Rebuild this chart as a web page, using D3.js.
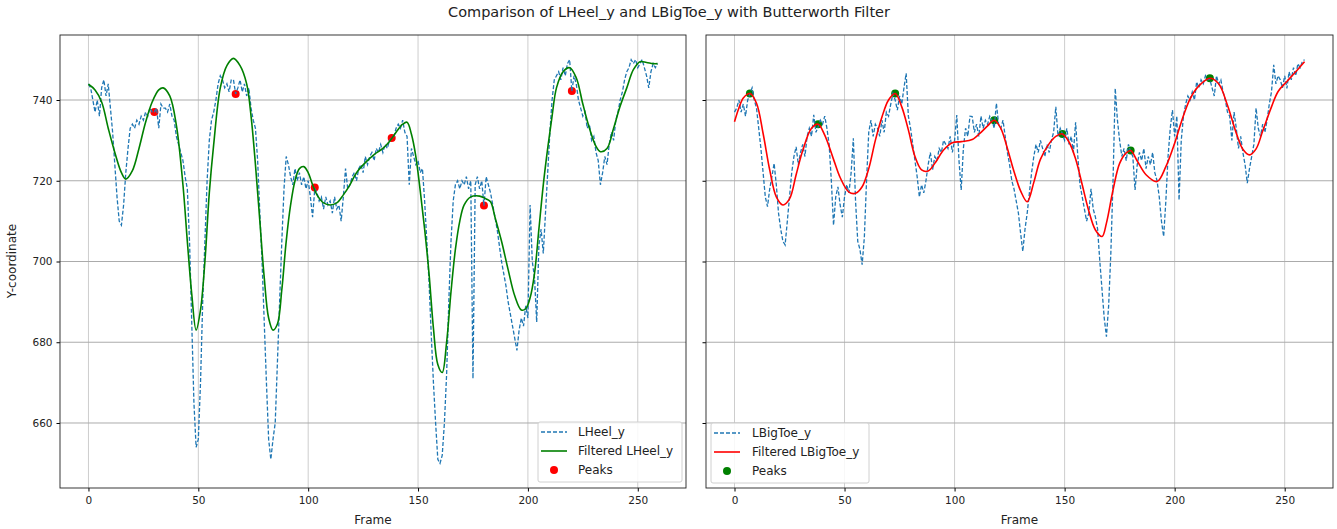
<!DOCTYPE html>
<html>
<head>
<meta charset="utf-8">
<script src="https://cdn.jsdelivr.net/npm/d3@7"></script>
<style>
  body { margin: 0; background: #fff; }
  svg { display: block; font-family: 'DejaVu Sans', sans-serif; }
</style>
</head>
<body>
<div id="chart"></div>
<script>
// raw LHeel_y, one value per frame (0..259)
const heelRaw = [
  744, 743, 740, 737, 740, 736, 743, 745, 741, 744, 738, 732,
  724, 716, 710, 709, 714, 722, 728, 733, 734,
  733, 735, 734, 736, 735, 737, 736, 738, 737,
  737, 738, 733, 739, 738,
  738, 737, 739, 736, 735, 731, 729, 727, 725,
  721, 718, 705, 685, 665, 654,
  656, 670, 690, 705, 720, 730, 735,
  737, 740, 744, 746, 745, 743, 744, 742, 745, 745, 741.5, 743, 745, 742, 744, 741, 743, 738, 735,
  733, 725, 712, 700, 685, 670, 656, 651, 656, 660, 675, 690, 705, 718, 726,
  724, 721, 719, 723, 720, 722, 719, 721, 718, 720, 716, 711, 718, 717, 715, 716, 713, 716, 714, 715, 712, 716, 713, 714, 710, 716, 723, 718,
  719, 721, 722, 720, 723, 724, 722, 726, 724, 726, 727, 725, 728, 727, 729, 727, 729, 728, 730, 730.5, 731, 733,
  734, 733, 735, 732, 731, 719, 728, 726, 724, 725, 722, 723,
  715, 705, 695, 682, 670, 660, 651, 650, 652, 660, 672, 690, 705, 715, 719,
  720, 718, 720, 719, 721, 718, 720,
  671,
  719, 721, 718, 720, 713.8, 721, 719,
  717, 714, 711, 708, 704, 700, 697, 694, 690, 687, 684, 681, 678, 683, 686, 684, 689, 686, 714, 700, 696, 685,
  704, 708, 702, 712, 722, 732, 740, 745, 746,
  747, 745, 748, 746, 749, 750, 742.2, 746, 744,
  740, 738, 736, 737, 733, 734, 730, 731, 727, 725,
  719, 722, 726, 724,
  729, 732, 730, 735, 737, 740, 742, 745, 747,
  748, 750, 749, 750, 748, 749, 750, 748, 746, 743, 747, 749, 748, 749
];

// filtered LHeel_y, read at these frames
const heelFiltFrames = [0, 3, 6, 9, 12, 15, 17, 20, 23, 26, 29, 32, 34, 37, 40, 43, 45, 47, 49, 51, 53, 55, 57, 60, 63, 66, 69, 72, 74, 76, 78, 80, 82, 84, 86, 88, 90, 92, 94, 96, 98, 100, 102, 104, 107, 110, 113, 116, 119, 122, 126, 130, 134, 137, 140, 143, 145, 147, 149, 151, 153, 155, 157, 159, 161, 163, 165, 167, 169, 171, 174, 178, 181, 183, 185, 188, 191, 194, 197, 199, 201, 203, 205, 207, 209, 211, 213, 216, 219, 222, 225, 228, 231, 233, 236, 239, 242, 245, 248, 251, 254, 257, 259];
const heelFilt = [743.9, 742.5, 739.5, 733, 727, 722, 720.4, 722.5, 728, 734.5, 739.5, 742.5, 743, 741, 733.8, 719, 705, 692, 683, 688, 700, 717, 729, 743, 748.5, 750.3, 748.5, 744, 736, 724, 710, 696, 686, 683, 684.5, 693, 705, 714, 720, 723, 723.5, 722, 719, 716.5, 714.5, 714, 714.5, 716.5, 719, 722, 724.5, 726.5, 728, 729.7, 732, 734, 734.5, 731.5, 726, 717.5, 708, 697, 683.5, 674.5, 672.5, 680, 692.5, 703, 710, 714, 716, 716.2, 715.5, 714.8, 711, 705, 698, 691.5, 688, 688.3, 691, 697, 708, 719, 728, 736, 743, 747, 748, 745.5, 739, 733, 728.5, 727.2, 728, 733, 738.5, 743, 747.5, 749.5, 749.3, 749, 749];

const heelPeakFrames = [30, 67, 103, 138, 180, 220];
const heelPeakValues = [737, 741.5, 718.3, 730.6, 713.9, 742.2];

// raw LBigToe_y, one value per frame (0..259)
const toeRaw = [
  737, 738, 740, 737, 739, 736, 740, 741.5, 743, 740, 738, 733,
  728, 722, 716, 713.6, 718, 721, 724.3, 719, 712, 708, 705, 704.1,
  710, 716, 722, 726, 728.4, 724, 727,
  729, 726, 731, 733, 731, 736.3, 732, 733.4,
  735, 734, 736, 733, 729, 720, 709, 716,
  718.5, 714, 711, 716, 719, 717,
  722, 730.5, 715, 705, 703, 699.2, 706, 720,
  732, 735, 731, 734, 733, 731, 735, 732, 737, 736,
  739, 741.6, 740, 737.5, 741, 739, 743, 746.6, 736,
  733, 729, 725, 721, 716, 719, 717, 720,
  724, 727, 722.7, 726, 725, 728, 727, 730, 729, 728, 731, 727,
  730, 736.3, 725, 717.7, 728,
  733, 731, 736, 735.9, 732, 734, 731, 736, 733, 735,
  734, 736, 735, 733, 739.2, 734, 733, 735, 731, 727, 724,
  720, 718, 715, 712, 707, 702.5, 708, 712,
  717, 722, 726, 729, 727, 730, 728, 726, 729, 727, 730, 732,
  738.3, 731, 733, 731.6, 730, 733, 729, 731, 727, 734.5, 726, 719,
  716, 713, 710, 712, 718, 713, 711, 708,
  700, 693, 686, 681.4, 689, 702,
  720, 742.9, 735,
  730, 726, 728, 725, 729, 727.2, 726, 717.7, 724,
  727, 725, 728, 723, 726, 724, 727, 722, 720,
  716, 710, 706.2, 715, 726,
  733, 737.5, 731, 736, 715.2, 730, 736, 739,
  741, 740, 742, 740, 744.5, 743, 745, 744,
  746, 745, 745.1, 743, 741, 746, 744, 745, 742, 740, 737,
  736, 730, 737, 733, 728, 731, 727, 724,
  719.4, 723, 726, 729,
  738, 733, 731, 734, 732, 735, 739, 742,
  748.7, 744, 746, 745, 743, 746, 742.9, 747, 745, 748, 746, 749, 748, 749.5, 750
];

// filtered LBigToe_y, read at these frames
const toeFiltFrames = [0, 2, 4, 7, 10, 13, 16, 19, 22, 25, 28, 31, 35, 38, 41, 45, 48, 52, 55, 58, 61, 64, 67, 70, 73, 76, 79, 82, 85, 88, 91, 95, 99, 103, 108, 112, 115, 118, 121, 124, 127, 130, 133, 136, 139, 143, 146, 149, 152, 155, 158, 161, 164, 167, 169, 172, 175, 178, 180, 183, 187, 192, 196, 200, 203, 207, 211, 216, 220, 224, 228, 231, 234, 237, 240, 244, 247, 251, 255, 259];
const toeFilt = [734.6, 738, 740.5, 741.6, 739.2, 731.7, 722.7, 716, 714, 715.5, 721.5, 727.5, 733, 734, 731.3, 725.3, 720.8, 717.2, 716.9, 718.5, 723, 730, 735.8, 740, 741.6, 738.3, 732.6, 726, 722.7, 722.4, 724.3, 727.6, 729.4, 729.7, 730.2, 732, 733.6, 735, 733, 728, 722.3, 717.5, 714.8, 719.6, 725.3, 729.2, 731, 731.6, 729.6, 725.4, 719, 712.5, 707.8, 706.2, 709.5, 717.7, 724.3, 726.9, 727.5, 724.9, 721.5, 719.8, 723.5, 729.3, 734.5, 740.3, 743.5, 745.4, 744, 738.7, 731.8, 727.8, 726.4, 727.9, 732.3, 738.3, 742.1, 744.6, 747, 749.5];

const toePeakFrames = [7, 38, 73, 118, 149, 180, 216];
const toePeakValues = [741.6, 734, 741.6, 735, 731.6, 727.5, 745.4];

const yTicks = [660, 680, 700, 720, 740];
const xTicks = [0, 50, 100, 150, 200, 250];

const width = 1337;
const height = 529;
const plotTop = 35;
const plotBottom = 488;

const svg = d3.select('#chart')
  .append('svg')
  .attr('width', width)
  .attr('height', height);

svg.append('rect')
  .attr('width', width)
  .attr('height', height)
  .attr('fill', '#fff');

svg.append('text')
  .attr('x', 669)
  .attr('y', 17)
  .attr('text-anchor', 'middle')
  .attr('font-size', 14.5)
  .attr('fill', '#222')
  .text('Comparison of LHeel_y and LBigToe_y with Butterworth Filter');

const y = d3.scaleLinear()
  .domain([643.9, 756.1])
  .range([plotBottom, plotTop]);

function drawPanel(opt) {
  const x = d3.scaleLinear()
    .domain([-12.95, 271.95])
    .range([opt.left, opt.right]);

  const g = svg.append('g');

  // grid
  g.append('g')
    .selectAll('line')
    .data(xTicks)
    .join('line')
    .attr('x1', d => x(d)).attr('x2', d => x(d))
    .attr('y1', plotTop).attr('y2', plotBottom)
    .attr('stroke', '#cdcdcd')
    .attr('stroke-width', 1);

  g.append('g')
    .selectAll('line')
    .data(yTicks)
    .join('line')
    .attr('x1', opt.left).attr('x2', opt.right)
    .attr('y1', d => y(d)).attr('y2', d => y(d))
    .attr('stroke', '#ababab')
    .attr('stroke-width', 1);

  // axes
  const xAxis = d3.axisBottom(x).tickValues(xTicks).tickSize(3.5).tickPadding(5);
  const gx = g.append('g')
    .attr('transform', `translate(0,${plotBottom})`)
    .call(xAxis);
  gx.select('.domain').remove();
  gx.selectAll('text').attr('font-size', 10.5).attr('fill', '#222').attr('font-family', 'DejaVu Sans');

  const yAxis = d3.axisLeft(y).tickValues(yTicks).tickSize(3.5).tickPadding(4);
  if (!opt.yLabels) yAxis.tickFormat('');
  const gy = g.append('g')
    .attr('transform', `translate(${opt.left},0)`)
    .call(yAxis);
  gy.select('.domain').remove();
  gy.selectAll('text').attr('font-size', 10.5).attr('fill', '#222').attr('font-family', 'DejaVu Sans');

  // peaks go under the lines, like matplotlib's scatter zorder
  g.append('g')
    .selectAll('circle')
    .data(opt.peakFrames)
    .join('circle')
    .attr('cx', d => x(d))
    .attr('cy', (d, i) => y(opt.peakValues[i]))
    .attr('r', 4)
    .attr('fill', opt.peakColor);

  const rawLine = d3.line()
    .x((d, i) => x(i))
    .y(d => y(d));

  g.append('path')
    .datum(opt.raw)
    .attr('d', rawLine)
    .attr('fill', 'none')
    .attr('stroke', '#1f77b4')
    .attr('stroke-width', 1.3)
    .attr('stroke-dasharray', '4,2');

  const filtLine = d3.line()
    .x(d => x(d))
    .y((d, i) => y(opt.filt[i]))
    .curve(d3.curveCatmullRom);

  g.append('path')
    .datum(opt.filtFrames)
    .attr('d', filtLine)
    .attr('fill', 'none')
    .attr('stroke', opt.filtColor)
    .attr('stroke-width', 1.6);

  // frame
  g.append('rect')
    .attr('x', opt.left)
    .attr('y', plotTop)
    .attr('width', opt.right - opt.left)
    .attr('height', plotBottom - plotTop)
    .attr('fill', 'none')
    .attr('stroke', '#222')
    .attr('stroke-width', 0.9);

  g.append('text')
    .attr('x', (opt.left + opt.right) / 2)
    .attr('y', 524)
    .attr('text-anchor', 'middle')
    .attr('font-size', 12)
    .attr('fill', '#222')
    .text('Frame');

  // legend
  const lg = g.append('g')
    .attr('transform', `translate(${opt.legendX},${opt.legendY})`);
  lg.append('rect')
    .attr('width', opt.legendW)
    .attr('height', 60)
    .attr('rx', 2)
    .attr('fill', 'rgba(255,255,255,0.85)')
    .attr('stroke', '#d0d0d0');

  const names = [opt.rawName, 'Filtered ' + opt.rawName, 'Peaks'];
  names.forEach((name, i) => {
    const cy = 10 + i * 19;
    if (i === 0) {
      lg.append('line')
        .attr('x1', 3).attr('x2', 29).attr('y1', cy).attr('y2', cy)
        .attr('stroke', '#1f77b4').attr('stroke-width', 1.3)
        .attr('stroke-dasharray', '4,2');
    } else if (i === 1) {
      lg.append('line')
        .attr('x1', 3).attr('x2', 29).attr('y1', cy).attr('y2', cy)
        .attr('stroke', opt.filtColor).attr('stroke-width', 1.6);
    } else {
      lg.append('circle')
        .attr('cx', 16).attr('cy', cy).attr('r', 4)
        .attr('fill', opt.peakColor);
    }
    lg.append('text')
      .attr('x', opt.textX)
      .attr('y', cy + 4.2)
      .attr('font-size', 12)
      .attr('fill', '#222')
      .text(name);
  });
}

drawPanel({
  left: 60, right: 686,
  raw: heelRaw, filtFrames: heelFiltFrames, filt: heelFilt,
  peakFrames: heelPeakFrames, peakValues: heelPeakValues,
  filtColor: 'green', peakColor: 'red', rawName: 'LHeel_y',
  yLabels: true,
  legendX: 538, legendY: 422, legendW: 144, textX: 40
});

drawPanel({
  left: 706, right: 1333,
  raw: toeRaw, filtFrames: toeFiltFrames, filt: toeFilt,
  peakFrames: toePeakFrames, peakValues: toePeakValues,
  filtColor: 'red', peakColor: 'green', rawName: 'LBigToe_y',
  yLabels: false,
  legendX: 711, legendY: 423, legendW: 158, textX: 41
});

svg.append('text')
  .attr('transform', 'translate(16,261) rotate(-90)')
  .attr('text-anchor', 'middle')
  .attr('font-size', 12)
  .attr('fill', '#222')
  .text('Y-coordinate');
</script>
</body>
</html>
